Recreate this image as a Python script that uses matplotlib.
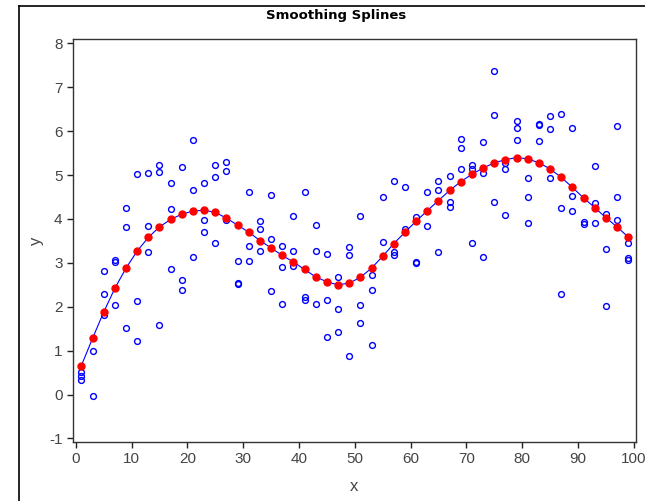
import matplotlib
matplotlib.use("Agg")
import matplotlib.pyplot as plt
from matplotlib.lines import Line2D

plt.rcParams['font.family'] = ['Liberation Sans', 'DejaVu Sans']
plt.rcParams['axes.unicode_minus'] = False

x_vals = list(range(1, 100, 2))

obs_y1 = [0.51, 0.99, 2.81, 3.07, 4.25, 5.03, 5.05, 5.24, 4.82, 5.18,
          5.79, 4.81, 5.24, 5.29, 3.04, 4.62, 3.96, 4.55, 3.38, 4.06,
          4.62, 3.86, 3.20, 2.68, 3.36, 4.06, 2.73, 4.49, 4.86, 4.73,
          4.04, 4.62, 4.86, 4.99, 5.82, 5.24, 5.75, 7.36, 5.28, 6.24,
          4.93, 6.16, 6.35, 6.39, 6.08, 4.48, 5.21, 4.11, 6.11, 3.45]
obs_y2 = [0.43, -0.04, 2.28, 3.01, 3.82, 2.13, 3.85, 5.06, 4.23, 2.60,
          4.65, 3.97, 4.95, 5.09, 2.55, 3.39, 3.78, 3.54, 2.90, 3.28,
          2.22, 3.27, 2.15, 1.95, 3.18, 2.03, 2.38, 3.48, 3.24, 3.78,
          3.02, 3.85, 4.65, 4.39, 5.61, 5.14, 5.04, 6.36, 5.14, 6.08,
          4.50, 6.13, 6.06, 4.24, 4.52, 3.93, 4.37, 3.32, 4.51, 3.10]
obs_y3 = [0.34, 1.28, 1.82, 2.05, 1.52, 1.21, 3.24, 1.58, 2.85, 2.38,
          3.13, 3.70, 3.46, 3.97, 2.52, 3.04, 3.28, 2.37, 2.06, 2.94,
          2.16, 2.07, 1.31, 1.43, 0.89, 1.62, 1.12, 3.15, 3.19, 3.70,
          2.99, 4.19, 3.24, 4.27, 5.15, 3.46, 3.14, 4.39, 4.08, 5.79,
          3.92, 5.78, 4.93, 2.29, 4.18, 3.89, 3.91, 2.01, 3.98, 3.06]

fit_y = [0.66, 1.28, 1.88, 2.42, 2.88, 3.27, 3.58, 3.82, 3.99, 4.11,
         4.18, 4.20, 4.15, 4.02, 3.86, 3.70, 3.51, 3.34, 3.17, 3.02,
         2.85, 2.68, 2.57, 2.50, 2.54, 2.67, 2.88, 3.15, 3.44, 3.70,
         3.95, 4.19, 4.42, 4.65, 4.85, 5.02, 5.16, 5.28, 5.35, 5.40,
         5.37, 5.28, 5.14, 4.95, 4.72, 4.48, 4.26, 4.03, 3.82, 3.59]

x_ticks = list(range(0, 101, 10))
y_ticks = list(range(-1, 9))

fig = plt.figure(figsize=(6.45, 5.01), dpi=100)
ax = fig.add_axes([73/645, 1 - 442/501, (636 - 73)/645, (442 - 39)/501])

for ys in (obs_y1, obs_y2, obs_y3):
    ax.plot(x_vals, ys, linestyle='none', marker='o', markersize=4.2,
            markerfacecolor='none', markeredgecolor='#0000ff', markeredgewidth=1.0)

ax.plot(x_vals, fit_y, color='#0000ff', linewidth=0.8)
ax.plot(x_vals, fit_y, linestyle='none', marker='o', markersize=5.0,
        markerfacecolor='#ff0000', markeredgecolor='#ff0000')

ax.set_xlim(-0.5, 100.4)
ax.set_ylim(-1.08, 8.1)
ax.set_xticks(x_ticks)
ax.set_yticks(y_ticks)
ax.tick_params(axis='both', direction='out', length=4, width=1, colors='#222222',
               labelcolor='#444444', labelsize=11)
for s in ax.spines.values():
    s.set_color('#333333')
    s.set_linewidth(1.0)

ax.set_xlabel('x', fontsize=12, color='#444444', labelpad=9)
ax.set_ylabel('y', fontsize=12, color='#444444', labelpad=4)

fig.text(336/645, 1 - 15/501, 'Smoothing Splines', ha='center', va='center',
         fontsize=9.5, fontweight='bold', family='DejaVu Sans', color='#000000')

# outer frame
fig.add_artist(Line2D([18.5/645, 18.5/645], [0, 1 - 5.5/501], transform=fig.transFigure,
                      color='black', linewidth=1.2))
fig.add_artist(Line2D([18.5/645, 1], [1 - 5.5/501, 1 - 5.5/501], transform=fig.transFigure,
                      color='black', linewidth=1.2))

fig.savefig('out.png', dpi=100)
